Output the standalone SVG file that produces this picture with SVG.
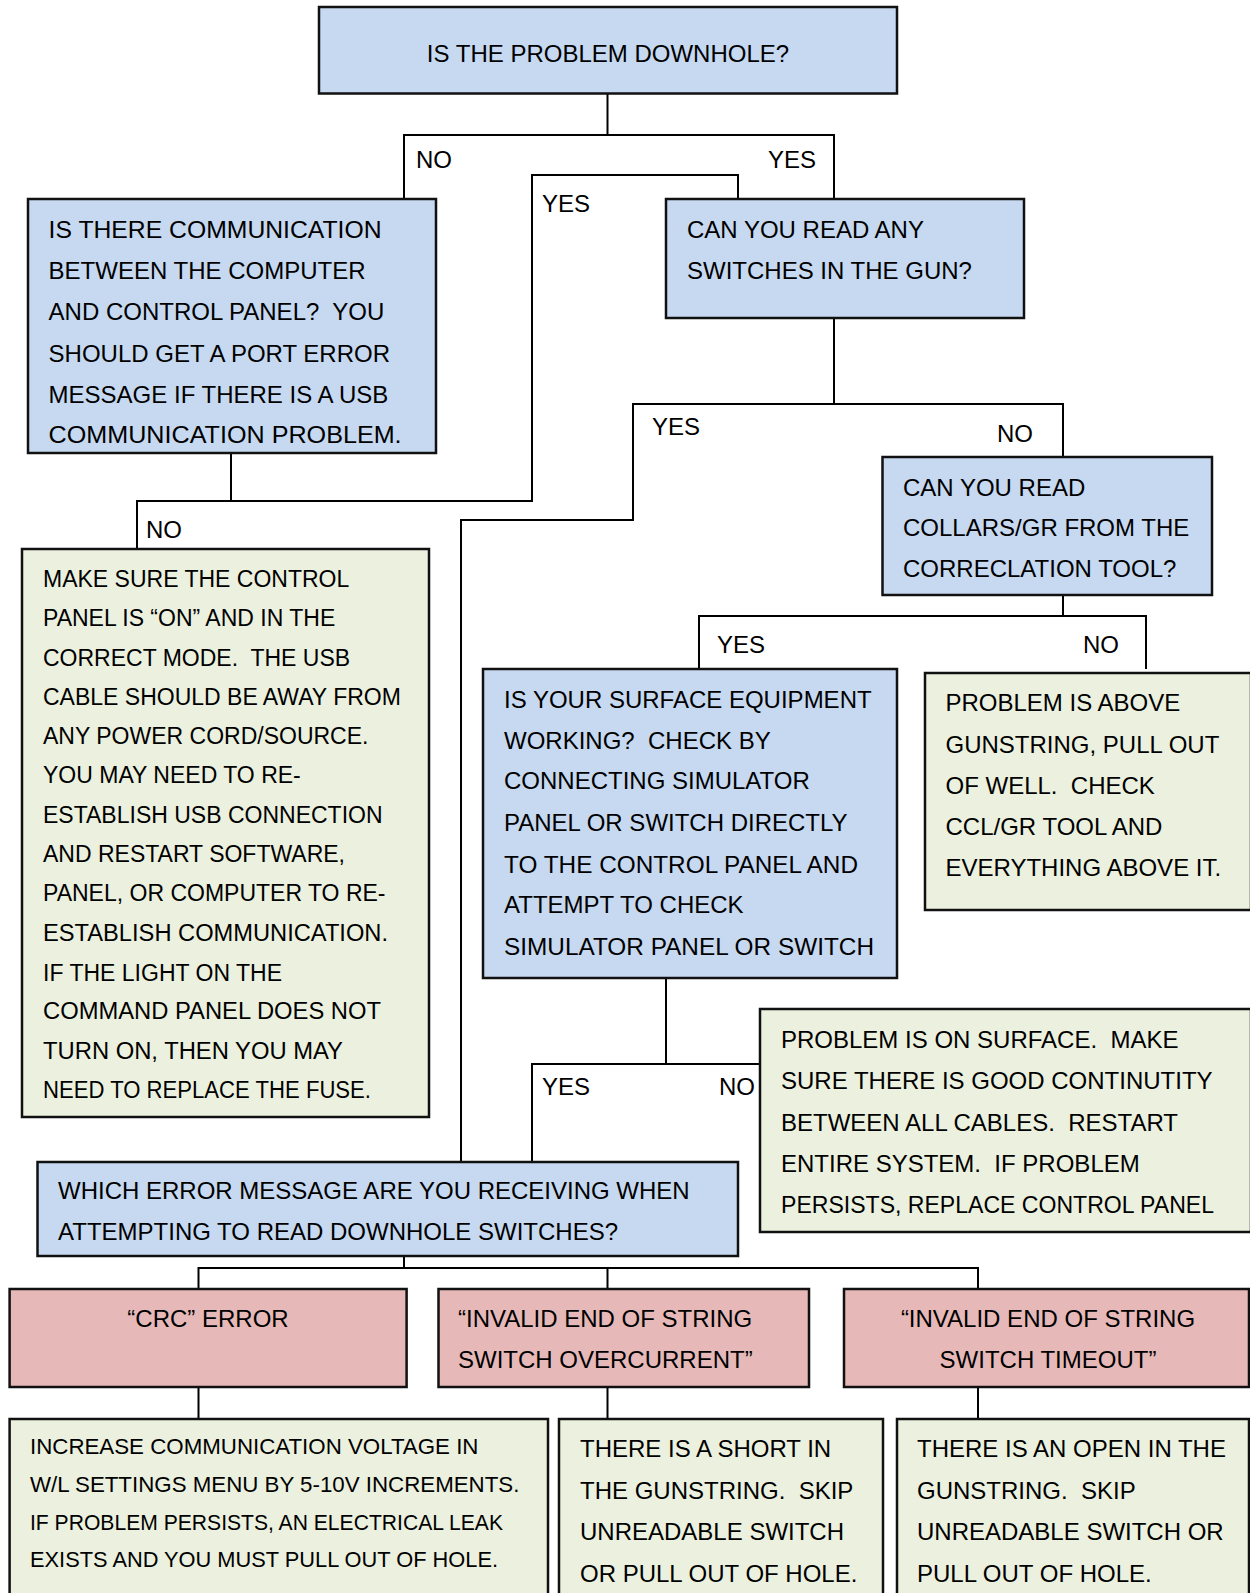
<svg xmlns="http://www.w3.org/2000/svg" width="1250" height="1593" viewBox="0 0 1250 1593">
<style>
.box{stroke:#111;stroke-width:2.5}
.blue{fill:#C6D9F1}
.green{fill:#EBF1DE}
.red{fill:#E6B9B8}
text{font-family:"Liberation Sans",Arial,sans-serif;font-size:24px;fill:#000;white-space:pre}
.s23{font-size:23px}
.s22{font-size:22.3px}
.mid{text-anchor:middle}
.conn{fill:none;stroke:#000;stroke-width:2}
</style>
<rect width="1250" height="1593" fill="#fff"/>
<g id="connectors">
<path class="conn" d="M607.5,94V135M404,199V135H834V199"/>
<path class="conn" d="M738,199V175H532V501H137V549M231,453V501"/>
<path class="conn" d="M834,318V404M1063,457V404H633V520H461V1162"/>
<path class="conn" d="M1063,595V616M699,669V616H1146V669"/>
<path class="conn" d="M666,978V1064M760,1064H532V1162"/>
<path class="conn" d="M404,1256V1268M198.5,1289V1268H978V1289M607.5,1268V1289"/>
<path class="conn" d="M198.5,1387V1419M607.5,1387V1419M978,1387V1419"/>
<text x="416" y="168">NO</text>
<text x="768" y="168">YES</text>
<text x="542" y="212">YES</text>
<text x="652" y="435">YES</text>
<text x="997" y="442">NO</text>
<text x="146" y="538">NO</text>
<text x="717" y="653">YES</text>
<text x="1083" y="653">NO</text>
<text x="542" y="1095">YES</text>
<text x="719" y="1095">NO</text>
</g>
<g id="n1">
<rect class="box blue" x="319" y="7" width="578" height="86.5"/>
<text x="608" y="62" class="mid">IS THE PROBLEM DOWNHOLE?</text>
</g>
<g id="n2">
<rect class="box blue" x="28" y="199" width="408" height="254"/>
<text x="48.6" y="238" textLength="333" lengthAdjust="spacingAndGlyphs">IS THERE COMMUNICATION</text>
<text x="48.6" y="279">BETWEEN THE COMPUTER</text>
<text x="48.6" y="320">AND CONTROL PANEL?  YOU</text>
<text x="48.6" y="362">SHOULD GET A PORT ERROR</text>
<text x="48.6" y="403">MESSAGE IF THERE IS A USB</text>
<text x="48.6" y="443" textLength="353" lengthAdjust="spacingAndGlyphs">COMMUNICATION PROBLEM.</text>
</g>
<g id="n3">
<rect class="box blue" x="666" y="199" width="358" height="119"/>
<text x="687" y="238">CAN YOU READ ANY</text>
<text x="687" y="279">SWITCHES IN THE GUN?</text>
</g>
<g id="n4">
<rect class="box blue" x="882.5" y="457" width="329.5" height="138"/>
<text x="903" y="496">CAN YOU READ</text>
<text x="903" y="536">COLLARS/GR FROM THE</text>
<text x="903" y="577">CORRECLATION TOOL?</text>
</g>
<g id="n5">
<rect class="box green" x="22" y="549" width="407" height="568"/>
<text class="s23" x="43" y="587">MAKE SURE THE CONTROL</text>
<text class="s23" x="43" y="626">PANEL IS “ON” AND IN THE</text>
<text class="s23" x="43" y="665.5">CORRECT MODE.  THE USB</text>
<text class="s23" x="43" y="705">CABLE SHOULD BE AWAY FROM</text>
<text class="s23" x="43" y="744">ANY POWER CORD/SOURCE.</text>
<text class="s23" x="43" y="783">YOU MAY NEED TO RE-</text>
<text class="s23" x="43" y="823">ESTABLISH USB CONNECTION</text>
<text class="s23" x="43" y="862">AND RESTART SOFTWARE,</text>
<text class="s23" x="43" y="901">PANEL, OR COMPUTER TO RE-</text>
<text class="s23" x="43" y="941" textLength="345" lengthAdjust="spacingAndGlyphs">ESTABLISH COMMUNICATION.</text>
<text class="s23" x="43" y="980.5">IF THE LIGHT ON THE</text>
<text class="s23" x="43" y="1019" textLength="338" lengthAdjust="spacingAndGlyphs">COMMAND PANEL DOES NOT</text>
<text class="s23" x="43" y="1059" textLength="300" lengthAdjust="spacingAndGlyphs">TURN ON, THEN YOU MAY</text>
<text class="s23" x="43" y="1098" textLength="328" lengthAdjust="spacingAndGlyphs">NEED TO REPLACE THE FUSE.</text>
</g>
<g id="n6">
<rect class="box blue" x="483" y="669" width="414" height="309"/>
<text x="504" y="708">IS YOUR SURFACE EQUIPMENT</text>
<text x="504" y="749">WORKING?  CHECK BY</text>
<text x="504" y="789">CONNECTING SIMULATOR</text>
<text x="504" y="831">PANEL OR SWITCH DIRECTLY</text>
<text x="504" y="873" textLength="354" lengthAdjust="spacingAndGlyphs">TO THE CONTROL PANEL AND</text>
<text x="504" y="913">ATTEMPT TO CHECK</text>
<text x="504" y="955" textLength="370" lengthAdjust="spacingAndGlyphs">SIMULATOR PANEL OR SWITCH</text>
</g>
<g id="n7">
<rect class="box green" x="925" y="673" width="326" height="237"/>
<text x="945.5" y="711">PROBLEM IS ABOVE</text>
<text x="945.5" y="753">GUNSTRING, PULL OUT</text>
<text x="945.5" y="794">OF WELL.  CHECK</text>
<text x="945.5" y="835">CCL/GR TOOL AND</text>
<text x="945.5" y="876">EVERYTHING ABOVE IT.</text>
</g>
<g id="n8">
<rect class="box green" x="760" y="1009" width="491" height="223"/>
<text x="781" y="1048">PROBLEM IS ON SURFACE.  MAKE</text>
<text x="781" y="1089">SURE THERE IS GOOD CONTINUTITY</text>
<text x="781" y="1131">BETWEEN ALL CABLES.  RESTART</text>
<text x="781" y="1172">ENTIRE SYSTEM.  IF PROBLEM</text>
<text x="781" y="1213" textLength="433" lengthAdjust="spacingAndGlyphs">PERSISTS, REPLACE CONTROL PANEL</text>
</g>
<g id="n9">
<rect class="box blue" x="37.5" y="1162" width="700.5" height="94"/>
<text x="58" y="1199">WHICH ERROR MESSAGE ARE YOU RECEIVING WHEN</text>
<text x="58" y="1240">ATTEMPTING TO READ DOWNHOLE SWITCHES?</text>
</g>
<g id="n10">
<rect class="box red" x="9.6" y="1289" width="397" height="98"/>
<text x="208" y="1327" class="mid">“CRC” ERROR</text>
</g>
<g id="n11">
<rect class="box red" x="438.5" y="1289" width="370.5" height="98"/>
<text x="458" y="1327">“INVALID END OF STRING</text>
<text x="458" y="1368">SWITCH OVERCURRENT”</text>
</g>
<g id="n12">
<rect class="box red" x="844" y="1289" width="405" height="98"/>
<text x="1048" y="1327" class="mid">“INVALID END OF STRING</text>
<text x="1048" y="1368" class="mid">SWITCH TIMEOUT”</text>
</g>
<g id="n13">
<rect class="box green" x="9.6" y="1419" width="538.4" height="190"/>
<text class="s22" x="30" y="1454">INCREASE COMMUNICATION VOLTAGE IN</text>
<text class="s22" x="30" y="1492">W/L SETTINGS MENU BY 5-10V INCREMENTS.</text>
<text class="s22" x="30" y="1530" textLength="473" lengthAdjust="spacingAndGlyphs">IF PROBLEM PERSISTS, AN ELECTRICAL LEAK</text>
<text class="s22" x="30" y="1567" textLength="468" lengthAdjust="spacingAndGlyphs">EXISTS AND YOU MUST PULL OUT OF HOLE.</text>
</g>
<g id="n14">
<rect class="box green" x="559" y="1419" width="324" height="190"/>
<text x="580" y="1457">THERE IS A SHORT IN</text>
<text x="580" y="1499">THE GUNSTRING.  SKIP</text>
<text x="580" y="1540">UNREADABLE SWITCH</text>
<text x="580" y="1582">OR PULL OUT OF HOLE.</text>
</g>
<g id="n15">
<rect class="box green" x="897" y="1419" width="352" height="190"/>
<text x="917" y="1457">THERE IS AN OPEN IN THE</text>
<text x="917" y="1499">GUNSTRING.  SKIP</text>
<text x="917" y="1540">UNREADABLE SWITCH OR</text>
<text x="917" y="1582">PULL OUT OF HOLE.</text>
</g>
</svg>
